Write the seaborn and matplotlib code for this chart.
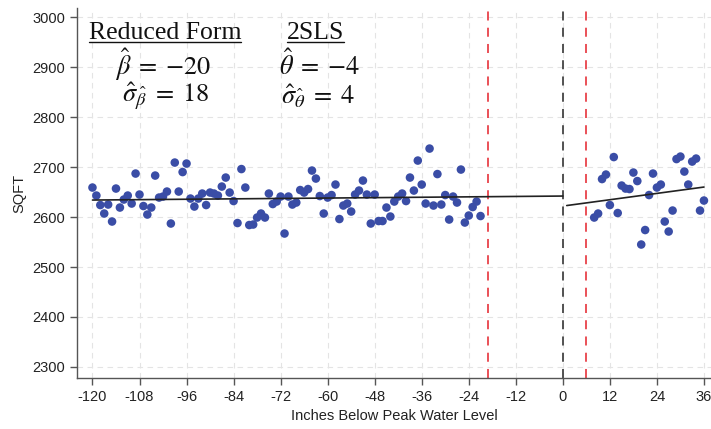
import numpy as np
import pandas as pd
import matplotlib
matplotlib.use("Agg")
import matplotlib.pyplot as plt
from matplotlib.lines import Line2D
import seaborn as sns

# binned means, left of the donut
left_x = list(range(-120, -20))
left_y = [2659, 2643, 2624, 2607, 2625, 2591, 2657, 2619, 2635, 2643,
          2627, 2687, 2645, 2622, 2605, 2619, 2683, 2639, 2641, 2651,
          2587, 2709, 2651, 2690, 2707, 2637, 2621, 2637, 2647, 2624,
          2649, 2647, 2643, 2661, 2679, 2649, 2632, 2588, 2696, 2659,
          2584, 2585, 2599, 2607, 2599, 2647, 2626, 2631, 2641, 2567,
          2641, 2625, 2629, 2654, 2649, 2656, 2693, 2677, 2642, 2607,
          2639, 2644, 2665, 2596, 2623, 2627, 2611, 2645, 2653, 2673,
          2645, 2587, 2645, 2592, 2592, 2619, 2601, 2631, 2641, 2647,
          2632, 2679, 2653, 2713, 2665, 2627, 2737, 2623, 2686, 2625,
          2644, 2595, 2641, 2629, 2695, 2589, 2603, 2620, 2631, 2602]

# binned means, right of the donut
right_x = list(range(8, 37))
right_y = [2599, 2607, 2676, 2685, 2624, 2720, 2608, 2663, 2657, 2656,
           2689, 2672, 2545, 2574, 2644, 2687, 2659, 2665, 2591, 2571,
           2613, 2716, 2721, 2691, 2665, 2711, 2717, 2613, 2633]

# fitted lines (endpoints)
fit_left_x = [-120, 0]
fit_left_y = [2634, 2642]
fit_right_x = [1, 36]
fit_right_y = [2623, 2660]

donut = [-19, 6]
cutoff = 0

x_ticks = list(range(-120, 37, 12))
y_ticks = list(range(2300, 3001, 100))

sns.set_style("white")
plt.rcParams["font.family"] = ["Liberation Sans", "DejaVu Sans"]
plt.rcParams["mathtext.fontset"] = "stix"
plt.rcParams["axes.unicode_minus"] = False

fig = plt.figure(figsize=(7.11, 4.29), dpi=100)
ax = fig.add_axes([0.108, 0.119, 0.892, 0.862])

pts = pd.DataFrame({"x": left_x + right_x, "y": left_y + right_y})
sns.scatterplot(data=pts, x="x", y="y", ax=ax, color="#3a4da6", s=38,
                edgecolor="none", zorder=3)

sns.lineplot(x=fit_left_x, y=fit_left_y, ax=ax, color="#222222", lw=1.2, zorder=4)
sns.lineplot(x=fit_right_x, y=fit_right_y, ax=ax, color="#222222", lw=1.2, zorder=4)

ax.axvline(cutoff, color="#444444", ls=(0, (5, 4)), lw=1.3, zorder=2)
for d in donut:
    ax.axvline(d, color="#e8424a", ls=(0, (5, 4)), lw=1.3, zorder=2)

ax.set_xlim(-124, 37.8)
ax.set_ylim(2278, 3018)
ax.set_xticks(x_ticks)
ax.set_yticks(y_ticks)
ax.grid(True, color="#e4e4e4", ls=(0, (5, 4)), lw=0.8)
ax.set_axisbelow(True)

for s in ["top", "right"]:
    ax.spines[s].set_visible(False)
for s in ["left", "bottom"]:
    ax.spines[s].set_color("#555555")
    ax.spines[s].set_linewidth(1.0)
ax.tick_params(axis="both", direction="out", length=5, width=1, color="#555555",
               labelsize=10.5, labelcolor="#222222", left=True, bottom=True)

ax.set_xlabel("Inches Below Peak Water Level", fontsize=10.5, color="#222222")
ax.set_ylabel("SQFT", fontsize=10.5, color="#222222")

# estimates box
txt = dict(color="#111111", ha="center", va="center", transform=ax.transAxes)
heads = [ax.text(0.139, 0.932, "Reduced Form", family="Liberation Serif",
                 fontsize=18.5, **txt),
         ax.text(0.376, 0.932, "2SLS", family="Liberation Serif",
                 fontsize=18.5, **txt)]
ax.text(0.136, 0.846, r"$\hat{\beta}\;=\;{-}20$", fontsize=19, **txt)
ax.text(0.383, 0.846, r"$\hat{\theta}\;=\;{-}4$", fontsize=19, **txt)
ax.text(0.140, 0.762, r"$\hat{\sigma}_{\hat{\beta}}\;=\;18$", fontsize=19, **txt)
ax.text(0.381, 0.762, r"$\hat{\sigma}_{\hat{\theta}}\;=\;4$", fontsize=19, **txt)

# underline the headings
fig.canvas.draw()
inv = fig.transFigure.inverted()
for h in heads:
    bb = h.get_window_extent()
    (x0, y0), (x1, _) = inv.transform([(bb.x0, bb.y0 + 2), (bb.x1, bb.y0)])
    fig.add_artist(Line2D([x0, x1], [y0, y0], color="#111111", lw=1.0))

fig.savefig("out.png", dpi=100)
